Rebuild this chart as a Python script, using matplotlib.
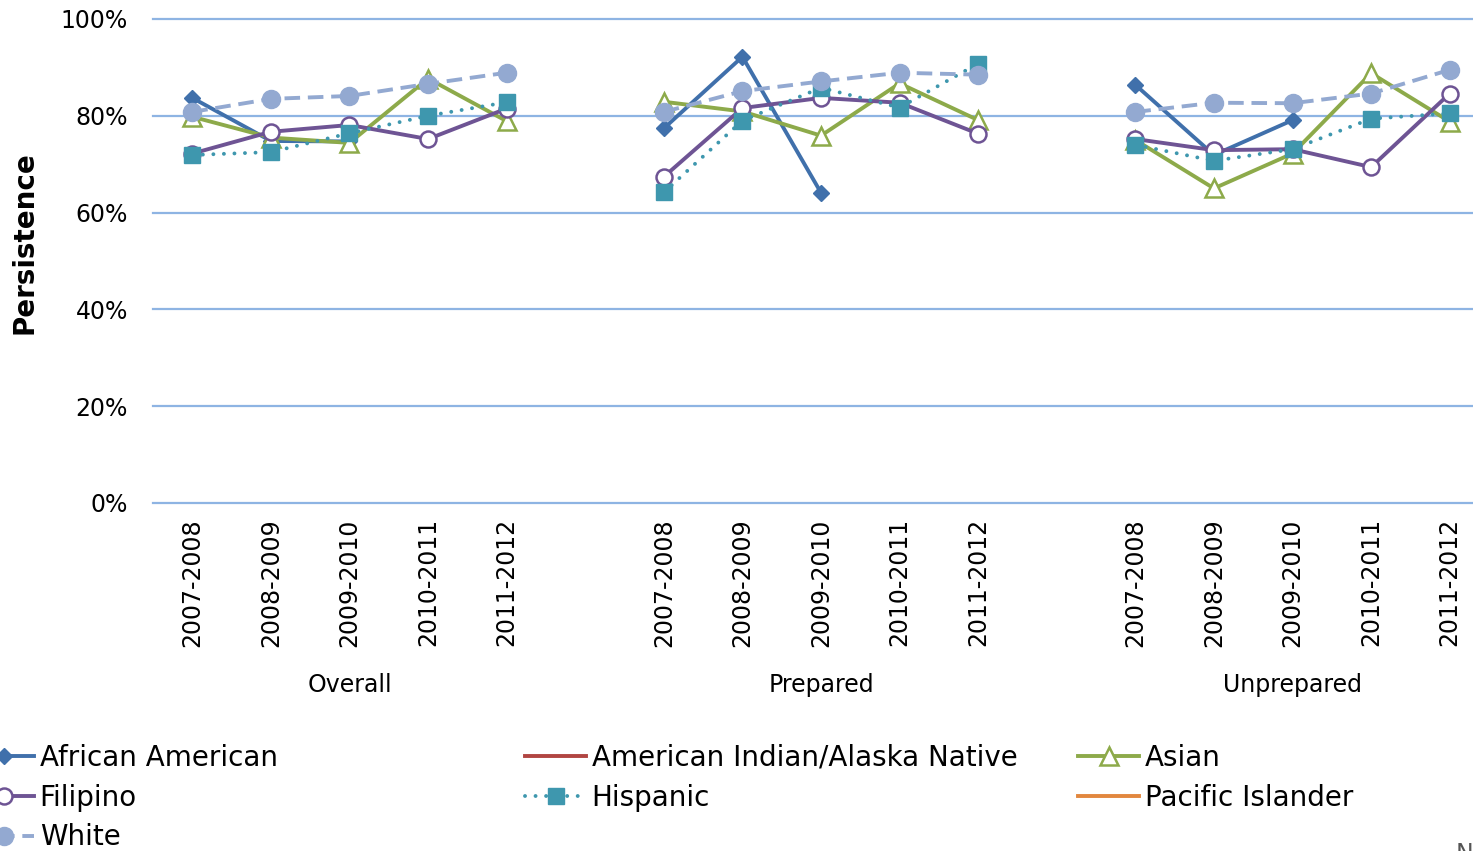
import numpy as np
import matplotlib
matplotlib.use("Agg")
import matplotlib.pyplot as plt

# ---------------- data ----------------
groups = ["Overall", "Prepared", "Unprepared"]
years = ["2007-2008", "2008-2009", "2009-2010", "2010-2011", "2011-2012"]
nan = np.nan

# values per group: Overall (5), Prepared (5), Unprepared (5)
african_american = [83.7, 74.8, 74.7, nan, nan,
                    77.4, 92.2, 64.1, nan, nan,
                    86.4, 71.9, 79.1, nan, nan]
american_indian_alaska_native = [nan] * 15
asian = [79.8, 75.5, 74.4, 87.7, 78.9,
         82.9, 80.9, 75.9, 86.7, 79.1,
         75.0, 65.0, 72.2, 88.8, 78.8]
filipino = [72.2, 76.7, 78.1, 75.2, 81.5,
            67.4, 81.6, 83.7, 82.7, 76.3,
            75.2, 72.9, 73.1, 69.4, 84.6]
hispanic = [71.9, 72.5, 76.4, 80.0, 82.8,
            64.2, 79.0, 85.8, 81.7, 90.8,
            74.0, 70.7, 73.1, 79.4, 80.5]
pacific_islander = [nan] * 15
white = [80.8, 83.5, 84.1, 86.6, 88.9,
         80.8, 85.1, 87.1, 88.9, 88.5,
         80.8, 82.7, 82.6, 84.6, 89.5]

LW = 2.8
series = [
    ("African American", african_american,
     dict(color="#4070AB", lw=LW, ls="-", marker="D", ms=8,
          mfc="#4070AB", mec="#4070AB")),
    ("American Indian/Alaska Native", american_indian_alaska_native,
     dict(color="#B14542", lw=LW, ls="-")),
    ("Asian", asian,
     dict(color="#8DAA4A", lw=LW, ls="-", marker="^", ms=13,
          mfc="white", mec="#8DAA4A", mew=1.8)),
    ("Filipino", filipino,
     dict(color="#6E5494", lw=LW, ls="-", marker="o", ms=11.5,
          mfc="white", mec="#6E5494", mew=1.8)),
    ("Hispanic", hispanic,
     dict(color="#3E97AE", lw=LW, ls=(0, (0.01, 2.7)),
          dash_capstyle="round", marker="s", ms=11,
          mfc="#3E97AE", mec="#3E97AE")),
    ("Pacific Islander", pacific_islander,
     dict(color="#E2873E", lw=LW, ls="-")),
    ("White", white,
     dict(color="#93A9D1", lw=LW, ls=(0, (4, 2)), dash_capstyle="butt",
          marker="o", ms=13, mfc="#93A9D1", mec="#93A9D1")),
]

# ---------------- figure ----------------
W, H = 1473, 851
fig = plt.figure(figsize=(W / 100, H / 100), dpi=100)
plt.rcParams["font.family"] = ["DejaVu Sans"]

ax_left, ax_bottom, ax_w, ax_h = 153, 503, 1336, 484
ax = fig.add_axes([ax_left / W, (H - ax_bottom) / H, ax_w / W, ax_h / H])

n_years = len(years)
gap = 1
positions = []
for g in range(len(groups)):
    for j in range(n_years):
        positions.append(g * (n_years + gap) + j)
positions = np.array(positions)

handles = {}
for name, vals, style in series:
    vals = np.array(vals, dtype=float)
    h = None
    for g in range(len(groups)):
        sl = slice(g * n_years, (g + 1) * n_years)
        line, = ax.plot(positions[sl], vals[sl], clip_on=False, **style)
        if h is None:
            h = line
    handles[name] = h

ax.set_xlim(-0.5, positions[-1] + 0.5)
ax.set_ylim(0, 100)
yt = [0, 20, 40, 60, 80, 100]
ax.set_yticks(yt)
ax.set_yticklabels([f"{v}%" for v in yt], fontsize=17)
ax.set_xticks(positions)
ax.set_xticklabels(years * len(groups), rotation=90, fontsize=17)
ax.tick_params(axis="both", length=0)
ax.tick_params(axis="y", pad=18)
ax.tick_params(axis="x", pad=11)
for s in ax.spines.values():
    s.set_visible(False)
ax.grid(axis="y", color="#8EB4E3", lw=1.6)
ax.grid(axis="x", visible=False)
ax.set_axisbelow(True)
for gl in ax.yaxis.get_gridlines():
    gl.set_clip_on(False)

# group labels
for g, gname in enumerate(groups):
    xc = positions[g * n_years:(g + 1) * n_years].mean()
    ax.text(xc, -(685 - ax_bottom) / ax_h, gname, transform=ax.get_xaxis_transform(),
            ha="center", va="center", fontsize=17)

fig.text(25 / W, 1 - 243 / H, "Persistence", rotation=90, ha="center", va="center",
         fontsize=20, fontweight="bold")

# legend in three columns (row-major order as in reference)
cols = [
    (["African American", "Filipino", "White"], -27),
    (["American Indian/Alaska Native", "Hispanic"], 525),
    (["Asian", "Pacific Islander"], 1078),
]
for names, xpx in cols:
    fig.legend([handles[n] for n in names], names, loc="upper left",
               bbox_to_anchor=(xpx / W, 1 - 744 / H), frameon=False,
               fontsize=20, handlelength=2.2, handletextpad=0.2,
               labelspacing=0.42, borderpad=0, borderaxespad=0, numpoints=1)

fig.text(1456 / W, 1 - 842 / H, "N", ha="left", va="top", fontsize=17, color="#555555")

fig.savefig("out.png", dpi=100)
